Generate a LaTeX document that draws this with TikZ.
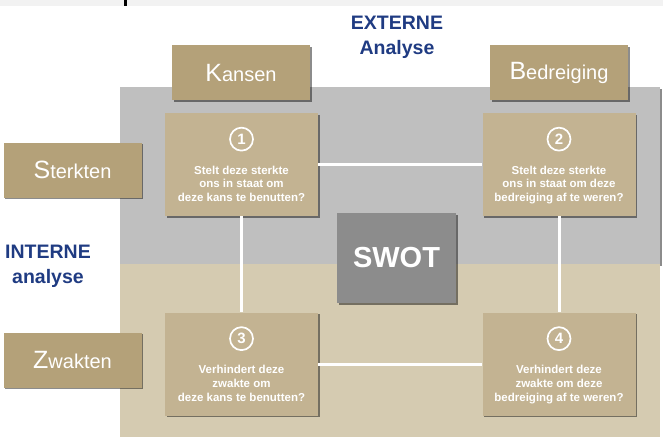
\documentclass[tikz,border=0pt]{standalone}
\usepackage{fontspec}
\setmainfont{Liberation Sans}
\usetikzlibrary{positioning,shadows}
\definecolor{kopbruin}{HTML}{B4A179}
\definecolor{vakbruin}{HTML}{C3B392}
\definecolor{grijsvlak}{HTML}{BFBFBF}
\definecolor{beigevlak}{HTML}{D5CBB1}
\definecolor{swotgrijs}{HTML}{8C8C8C}
\definecolor{donkerblauw}{HTML}{1F3B82}
\newcommand\grootletter[1]{{\fontsize{25}{25}\selectfont #1}}

\begin{document}
\begin{tikzpicture}[x=1pt,y=-1pt,line cap=round,line join=round,
  schaduw/.style={drop shadow={shadow xshift=1.5pt,shadow yshift=-1.5pt,fill=black,opacity=.45}},
  kop/.style={fill=kopbruin,schaduw,minimum width=138pt,minimum height=55pt,inner sep=0pt,
    text=white,font=\fontsize{20}{24}\selectfont},
  vak/.style={fill=vakbruin,schaduw,minimum width=153pt,minimum height=103pt,inner sep=0pt},
  nummer/.style={circle,draw=white,line width=1.7pt,minimum size=23pt,inner sep=0pt,
    text=white,font=\bfseries\fontsize{15}{15}\selectfont},
  vraag/.style={align=center,text=white,inner sep=0pt,font=\bfseries\fontsize{11.5}{13.8}\selectfont},
  analyse/.style={align=center,text=donkerblauw,inner sep=0pt,font=\bfseries\fontsize{19.5}{25}\selectfont},
  lijn/.style={draw=white,line width=3pt,line cap=butt}]
  \useasboundingbox (0,0) rectangle (663,437);
  % strook bovenaan
  \fill[black!5] (0,0) rectangle (663,6);
  \fill[black] (124,0) rectangle (127,6);
  % achtergrondvlakken
  \fill[grijsvlak,schaduw] (120,87) rectangle (660,264);
  \fill[beigevlak] (120,264) rectangle (660,437);
  % koppen
  \node[kop] (kansen) at (241,72.5) {\grootletter{K}ansen};
  \node[kop] (bedreiging) at (559,72.5) {\grootletter{B}edreiging};
  \node[kop] (sterkten) at (72.5,170) {\grootletter{S}terkten};
  \node[kop] (zwakten) at (72.5,360) {\grootletter{Z}wakten};
  \node[analyse] (extern) at (397,37.5) {EXTERNE\\Analyse};
  \node[analyse] (intern) at (48,266.5) {INTERNE\\analyse};
  % vier vakken
  \node[vak] (v1) at (241.5,164.5) {};
  \node[vak] (v2) at (559,164.5) {};
  \node[vak] (v3) at (241.5,364) {};
  \node[vak] (v4) at (559,364) {};
  \draw[lijn] (v1) -- (v2);
  \draw[lijn] (v1) -- (v3);
  \draw[lijn] (v2) -- (v4);
  \draw[lijn] (v3) -- (v4);
  \node[nummer,below=14pt of v1.north] (n1) {1};
  \node[nummer,below=14pt of v2.north] (n2) {2};
  \node[nummer,below=14pt of v3.north] (n3) {3};
  \node[nummer,below=14pt of v4.north] (n4) {4};
  \node[vraag,below=14pt of n1] (t1) {Stelt deze sterkte\\ons in staat om\\deze kans te benutten?};
  \node[vraag,below=14pt of n2] (t2) {Stelt deze sterkte\\ons in staat om deze\\bedreiging af te weren?};
  \node[vraag,below=14pt of n3] (t3) {Verhindert deze\\zwakte om\\deze kans te benutten?};
  \node[vraag,below=14pt of n4] (t4) {Verhindert deze\\zwakte om deze\\bedreiging af te weren?};
  % midden
  \node[fill=swotgrijs,schaduw,minimum width=119pt,minimum height=90pt,text=white,
    font=\bfseries\fontsize{29}{29}\selectfont] (swot) at (396.5,258) {SWOT};
\end{tikzpicture}
\end{document}
